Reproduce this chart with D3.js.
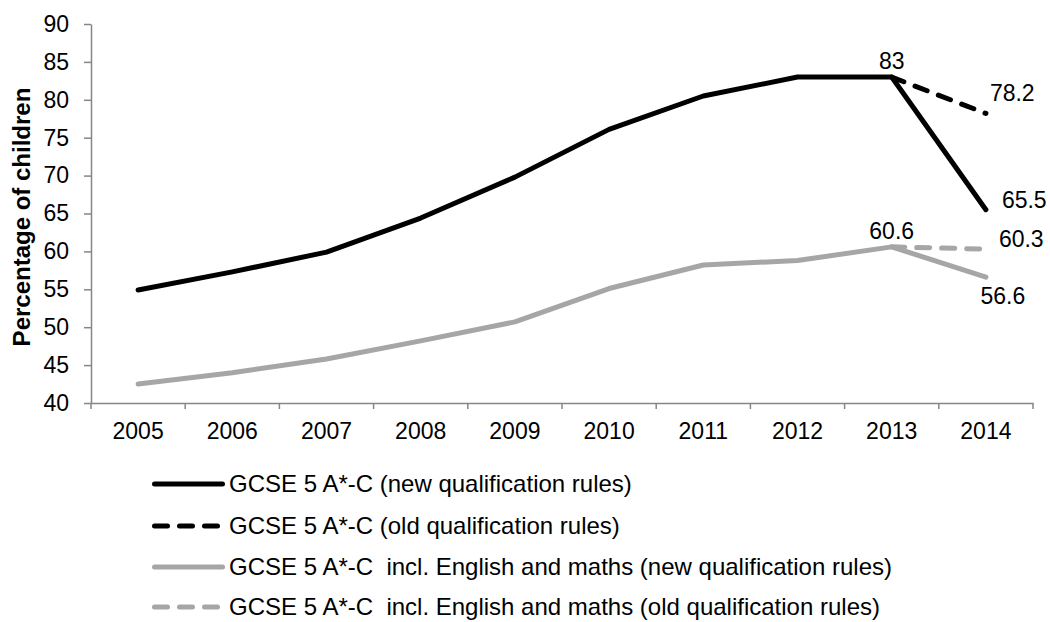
<!DOCTYPE html>
<html>
<head>
<meta charset="utf-8">
<script src="https://cdn.jsdelivr.net/npm/d3@7"></script>
<style>
  html, body { margin: 0; padding: 0; background: #fff; }
  svg { display: block; font-family: "Liberation Sans", Arial, sans-serif; }
  text { white-space: pre; }
</style>
</head>
<body>
<svg id="chart" width="1050" height="622"></svg>
<script>
const years = ["2005","2006","2007","2008","2009","2010","2011","2012","2013","2014"];
const gcseNew = [54.9, 57.3, 59.9, 64.4, 69.8, 76.1, 80.5, 83.0, 83.0, 65.5];
const gcseOldYears = ["2013","2014"];
const gcseOld = [83.0, 78.2];
const emNew = [42.5, 44.0, 45.8, 48.2, 50.7, 55.1, 58.2, 58.8, 60.6, 56.6];
const emOld = [60.6, 60.3];
const yTicks = [40,45,50,55,60,65,70,75,80,85,90];
const seriesNames = [
  "GCSE 5 A*-C (new qualification rules)",
  "GCSE 5 A*-C (old qualification rules)",
  "GCSE 5 A*-C  incl. English and maths (new qualification rules)",
  "GCSE 5 A*-C  incl. English and maths (old qualification rules)"
];

const BLACK = "#000000", GREY = "#a6a6a6", AXIS = "#868686";
const FONT = "Liberation Sans, Arial, sans-serif";
const svg = d3.select("#chart");

const x = d3.scaleBand().domain(years).range([91, 1033]).padding(0);
const y = d3.scaleLinear().domain([40, 90]).range([403, 24]);
const cx = d => x(d) + x.bandwidth() / 2;

// axes
const yAxis = svg.append("g").attr("transform", "translate(91,0)")
  .call(d3.axisLeft(y).tickValues(yTicks).tickSize(7).tickSizeOuter(0).tickPadding(15));
const xAxis = svg.append("g").attr("transform", "translate(0,403)")
  .call(d3.axisBottom(x).tickSize(0).tickPadding(20));
// category boundary ticks
const bounds = years.map(d => x(d)).concat([x.range()[1]]);
svg.append("g").selectAll("line").data(bounds).join("line")
  .attr("x1", d => d).attr("x2", d => d)
  .attr("y1", 403).attr("y2", 409).attr("stroke", AXIS).attr("stroke-width", 1.5);

[yAxis, xAxis].forEach(g => {
  g.select(".domain").attr("stroke", AXIS).attr("stroke-width", 1.5);
  g.selectAll(".tick line").attr("stroke", AXIS).attr("stroke-width", 1.5);
  g.selectAll(".tick text").attr("fill", "#000").attr("font-size", 23)
    .attr("font-family", FONT);
});

svg.append("text")
  .attr("transform", "translate(22,217) rotate(-90)")
  .attr("text-anchor", "middle").attr("dy", "0.35em")
  .attr("font-size", 24).attr("font-weight", "bold")
  .text("Percentage of children");

// lines
const line = d3.line().x(d => cx(d[0])).y(d => y(d[1]));
const series = [
  { pts: d3.zip(years, gcseNew), color: BLACK, dash: null },
  { pts: d3.zip(gcseOldYears, gcseOld), color: BLACK, dash: "13,12" },
  { pts: d3.zip(years, emNew), color: GREY, dash: null },
  { pts: d3.zip(gcseOldYears, emOld), color: GREY, dash: "13,12" }
];
[1, 3, 2, 0].forEach(i => {
  const s = series[i];
  svg.append("path").attr("d", line(s.pts)).attr("fill", "none")
    .attr("stroke", s.color).attr("stroke-width", 5)
    .attr("stroke-linecap", "round").attr("stroke-linejoin", "round")
    .attr("stroke-dasharray", s.dash);
});

// data labels
const labels = [
  { yr: "2013", v: gcseNew[8], dx: 0, dy: -16, anchor: "middle" },
  { yr: "2014", v: gcseOld[1], dx: 4, dy: -20, anchor: "start" },
  { yr: "2014", v: gcseNew[9], dx: 16, dy: -10, anchor: "start" },
  { yr: "2013", v: emNew[8], dx: 0, dy: -16, anchor: "middle" },
  { yr: "2014", v: emOld[1], dx: 13, dy: -10, anchor: "start" },
  { yr: "2014", v: emNew[9], dx: 17, dy: 19, anchor: "middle" }
];
svg.append("g").selectAll("text").data(labels).join("text")
  .attr("x", d => cx(d.yr) + d.dx)
  .attr("y", d => y(d.v) + d.dy)
  .attr("dy", "0.35em")
  .attr("text-anchor", d => d.anchor)
  .attr("font-size", 23)
  .text(d => d3.format("")(d.v));

// legend
const legendY = [484, 526, 567, 607];
const lg = svg.append("g");
seriesNames.forEach((name, i) => {
  const s = series[i];
  lg.append("line").attr("x1", 154.5).attr("x2", 222.5)
    .attr("y1", legendY[i]).attr("y2", legendY[i])
    .attr("stroke", s.color).attr("stroke-width", 5)
    .attr("stroke-linecap", "round").attr("stroke-dasharray", s.dash);
  lg.append("text").attr("x", 229).attr("y", legendY[i]).attr("dy", "0.35em")
    .attr("font-size", 24).text(name);
});
</script>
</body>
</html>
